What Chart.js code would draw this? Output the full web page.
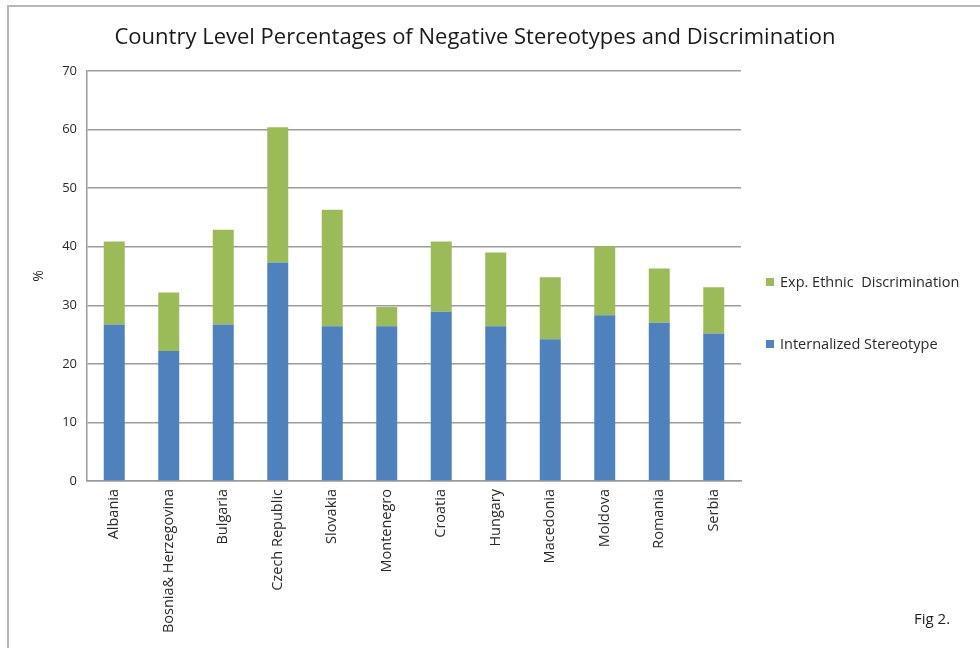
<!DOCTYPE html>
<html>
<head>
<meta charset="utf-8">
<script src="https://cdn.jsdelivr.net/npm/chart.js@4/dist/chart.umd.min.js"></script>
<style>
  html, body { margin: 0; padding: 0; background: #fff; }
  #wrap { position: relative; width: 980px; height: 648px; overflow: hidden; font-family: "Open Sans", Lato, sans-serif; }
  #frame { position: absolute; left: 7px; top: 5px; width: 990px; height: 660px; border-top: 2px solid #b8b8b8; border-left: 2px solid #b8b8b8; }
  #c { position: absolute; left: 0; top: 0; }
  #title { position: absolute; left: 0; width: 950px; top: 20px; text-align: center; font-size: 22px; color: #1a1a1a; white-space: nowrap; }
  .lg { position: absolute; left: 766px; font-size: 14.5px; color: #2a2a2a; white-space: pre; }
  .lg span.box { display: inline-block; width: 8px; height: 8px; margin-right: 6px; vertical-align: 1px; }
  #fig { position: absolute; left: 914px; top: 608px; font-size: 15px; color: #222; }
</style>
</head>
<body>
<div id="wrap">
  <div id="frame"></div>
  <canvas id="c" width="980" height="648"></canvas>
  <div id="title"></div>
  <div id="legend"></div>
  <div id="fig">Fig 2.</div>
</div>
<script>
const chartTitle = "Country Level Percentages of Negative Stereotypes and Discrimination";
const countries = ["Albania", "Bosnia& Herzegovina", "Bulgaria", "Czech Republic", "Slovakia", "Montenegro", "Croatia", "Hungary", "Macedonia", "Moldova", "Romania", "Serbia"];
const internalizedStereotype = [26.7, 22.2, 26.7, 37.3, 26.4, 26.4, 28.9, 26.4, 24.2, 28.3, 27.0, 25.2];
const expEthnicDiscrimination = [14.2, 10.0, 16.2, 23.1, 19.9, 3.3, 12.0, 12.6, 10.6, 11.8, 9.3, 7.9];
const yTicks = [0, 10, 20, 30, 40, 50, 60, 70];
const seriesNames = ["Internalized Stereotype", "Exp. Ethnic  Discrimination"];
const seriesColors = ["#4f81bd", "#9bbb59"];

document.getElementById('title').textContent = chartTitle;

const legendEl = document.getElementById('legend');
const legendTops = [272, 334];
[1, 0].forEach((idx, i) => {
  const d = document.createElement('div');
  d.className = 'lg';
  d.style.top = legendTops[i] + 'px';
  const b = document.createElement('span');
  b.className = 'box';
  b.style.background = seriesColors[idx];
  d.appendChild(b);
  d.appendChild(document.createTextNode(seriesNames[idx]));
  legendEl.appendChild(d);
});

const font = "'Open Sans', Lato, sans-serif";
new Chart(document.getElementById('c'), {
  type: 'bar',
  data: {
    labels: countries,
    datasets: [
      { label: seriesNames[0], data: internalizedStereotype, backgroundColor: seriesColors[0], categoryPercentage: 1, barPercentage: 0.385 },
      { label: seriesNames[1], data: expEthnicDiscrimination, backgroundColor: seriesColors[1], categoryPercentage: 1, barPercentage: 0.385 }
    ]
  },
  options: {
    responsive: false,
    animation: false,
    layout: { padding: { left: 0, right: 239, top: 71, bottom: 0 } },
    plugins: { legend: { display: false }, title: { display: false }, tooltip: { enabled: false } },
    scales: {
      x: {
        stacked: true,
        grid: { display: false, drawTicks: false },
        border: { display: true, color: '#9a9a9a', width: 1.5 },
        ticks: { minRotation: 90, maxRotation: 90, autoSkip: false, padding: 8, color: '#2a2a2a', font: { family: font, size: 14.5 } },
        afterFit: s => { s.height = 167; }
      },
      y: {
        stacked: true,
        min: 0, max: 70,
        afterBuildTicks: s => { s.ticks = yTicks.map(v => ({ value: v })); },
        grid: { color: '#9c9c9c', lineWidth: 1.5, drawTicks: false },
        border: { display: true, color: '#9a9a9a', width: 1.5 },
        ticks: { padding: 10, color: '#2a2a2a', font: { family: font, size: 13 } },
        title: { display: true, text: '%', color: '#2a2a2a', font: { family: font, size: 14 }, padding: { top: 31, bottom: 0 } },
        afterFit: s => { s.width = 87; }
      }
    }
  }
});
</script>
</body>
</html>
